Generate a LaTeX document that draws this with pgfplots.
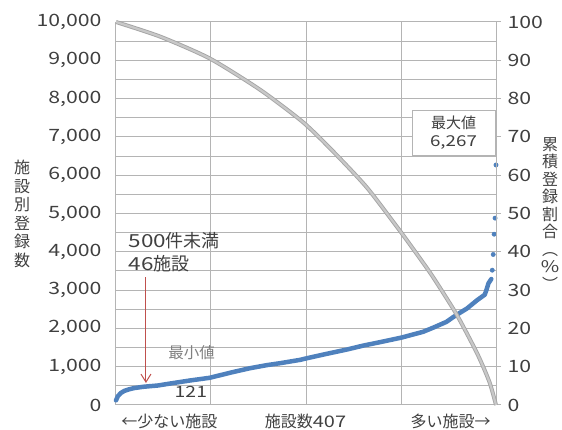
\documentclass[border=0pt]{standalone}
\usepackage{fontspec}
\usepackage{pgfplots}
\pgfplotsset{compat=1.18}
\usetikzlibrary{arrows.meta}
\setmainfont{Noto Sans CJK JP}
\newfontfamily\wide{Noto Sans CJK JP}[FakeStretch=1.25]

\definecolor{gridc}{RGB}{180,180,180}
\definecolor{blueC}{RGB}{79,129,189}
\definecolor{textc}{RGB}{64,64,64}
\definecolor{grayline}{RGB}{200,200,200}
\definecolor{grayedge}{RGB}{165,165,165}
\definecolor{arrowc}{RGB}{192,80,77}

\begin{document}
\begin{tikzpicture}
% left axis: registrations per facility
\begin{axis}[
    scale only axis, width=380pt, height=383pt,
    at={(0,0)}, anchor=south west,
    xmin=1, xmax=407, ymin=0, ymax=10000,
    axis y line*=left, axis x line*=bottom,
    axis line style={gridc, line width=1pt},
    xtick={102.5,204,305.5}, xticklabels={},
    ytick={0,1000,...,10000}, minor ytick={500,1500,...,9500},
    grid=both,
    major grid style={gridc, line width=1pt},
    minor grid style={gridc, line width=1pt},
    tick style={draw=none},
    scaled y ticks=false,
    /pgf/number format/assume math mode=true,
    /pgf/number format/1000 sep={,},
    yticklabel style={font=\wide\fontsize{17}{17}\selectfont, text=textc, xshift=-11pt},
    clip=false,
]
\addplot[blueC, line width=4.5pt, line join=round, line cap=round] coordinates {
(1,121)(3,230)(6,310)(10,370)(15,410)(20,440)(30,475)(46,510)(60,565)(80,640)
(101,710)(126,860)(144,960)(162,1040)(176,1090)(198,1180)(203,1210)(225,1330)
(248,1450)(265,1550)(283,1640)(306,1760)(329,1910)(340,2020)(354,2170)(361,2290)
(368,2400)(376,2520)(387,2740)(395,2880)(397,3020)(399,3180)(402,3290)
};
\addplot[only marks, mark=*, mark size=2.2pt, blueC] coordinates {
(403,3520)(404,3930)(405,4460)(406,4880)(407,6267)
};

% annotations
\node[anchor=west, align=left, text=textc, font=\fontsize{18}{23}\selectfont]
  at (axis cs:10.6,3980) {{\wide 500}件未満\\{\wide 46}施設};
\draw[arrowc, line width=1pt, -{Straight Barb[length=8pt,width=10pt]}]
  (axis cs:33,3340) -- (axis cs:33,574);
\node[text=gray, font=\fontsize{15.5}{15.5}\selectfont] at (axis cs:81.7,1358) {最小値};
\node[text=textc, font=\wide\fontsize{15.5}{15.5}\selectfont] at (axis cs:81,340) {121};
\node[draw=gridc, fill=white, line width=0.6pt, minimum width=83pt, minimum height=45pt,
  align=center, text=textc, font=\fontsize{15}{18.5}\selectfont]
  at (axis cs:361.6,7115) {最大値\\{\wide 6,267}};

% bottom captions
\node[anchor=west, text=textc, font=\fontsize{16}{16}\selectfont] at (axis cs:3.1,-418) {←少ない施設};
\node[text=textc, font=\fontsize{16}{16}\selectfont] at (axis cs:203.5,-418) {施設数{\wide 407}};
\node[anchor=east, text=textc, font=\fontsize{16}{16}\selectfont] at (axis cs:404.9,-418) {多い施設→};

% axis titles, stacked vertically
\node[align=center, text=textc, font=\fontsize{16}{18.5}\selectfont] at (axis cs:-99.4,4987)
  {施\\設\\別\\登\\録\\数};
\node[align=center, text=textc, font=\fontsize{16}{17.5}\selectfont] at (axis cs:464.7,4987)
  {累\\積\\登\\録\\割\\合\\︵\\{\wide\%}\\︶};
\end{axis}

% right axis: cumulative share
\begin{axis}[
    scale only axis, width=380pt, height=383pt,
    at={(0,0)}, anchor=south west,
    xmin=1, xmax=407, ymin=0, ymax=100,
    axis y line*=right, axis x line=none,
    axis line style={gridc, line width=1pt},
    ytick={0,10,...,100},
    tick align=outside, major tick length=5pt,
    ytick style={gridc, line width=1pt},
    /pgf/number format/assume math mode=true,
    yticklabel style={font=\wide\fontsize{17}{17}\selectfont, text=textc, xshift=3pt},
    clip=false,
]
\pgfplotstableread{
i   pct
1   100
48  96.2
101 90.5
155 82.3
201 73.8
233 66.2
269 56.8
304 45.6
326 38.2
340 33.3
365 23.6
387 13.4
400 6.0
407 0
}\cumtable
\addplot[grayedge, line width=4pt, smooth, tension=0.4] table[x=i, y=pct] {\cumtable};
\addplot[grayline, line width=2.2pt, smooth, tension=0.4] table[x=i, y=pct] {\cumtable};
\end{axis}

\pgfresetboundingbox
\path[use as bounding box] (-116pt,-25pt) rectangle (446pt,405pt);
\end{tikzpicture}
\end{document}
